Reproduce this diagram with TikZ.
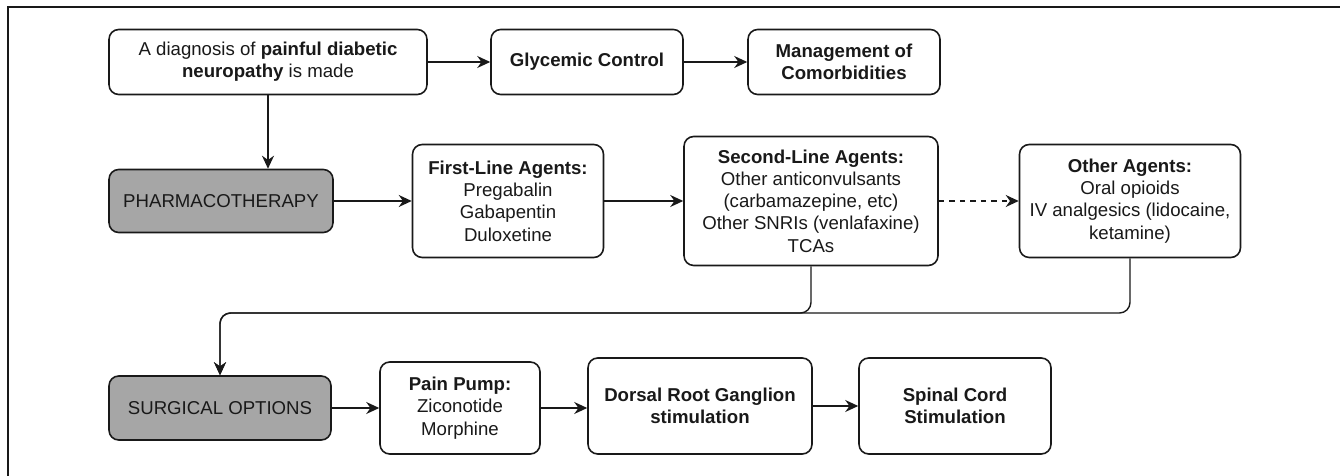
\documentclass[tikz,border=0pt]{standalone}
\usepackage{fontspec}
\setmainfont{Liberation Sans}
\usepackage{tikz}
\usetikzlibrary{arrows.meta, positioning, calc}
\definecolor{StepGray}{RGB}{166,166,166}
\definecolor{InkDark}{RGB}{25,25,25}

\begin{document}
\begin{tikzpicture}[
        x=0.02cm, y=-0.02cm,
        box/.style={draw=InkDark,line width=0.9pt,rounded corners=5.5pt,fill=white,
                    align=center,text=InkDark,inner sep=2pt,
                    font=\fontsize{10.6}{12.7}\selectfont},
        stage/.style={box,fill=StepGray},
        arr/.style={draw=InkDark,line width=0.8pt,
                    -{Stealth[length=2.6mm,width=2.4mm]}},
        dash arr/.style={arr,dashed}
      ]
        \useasboundingbox (0,0) rectangle (1340,476);
        % outer frame
        \draw[InkDark,line width=0.9pt] (8,476) -- (8,7) -- (1340,7);
        % top row
        \node[box,minimum width=6.36cm,minimum height=1.3cm] (diag) at (268,62)
          {A diagnosis of \textbf{painful diabetic}\\\textbf{neuropathy} is made};
        \node[box,minimum width=3.84cm,minimum height=1.3cm] (glyc) at (587,62)
          {\textbf{Glycemic Control}};
        \node[box,minimum width=3.84cm,minimum height=1.3cm] (mgmt) at (844,62)
          {\textbf{Management of}\\\textbf{Comorbidities}};
        % pharmacotherapy row
        \node[stage,minimum width=4.48cm,minimum height=1.26cm] (pharm) at (221,201)
          {PHARMACOTHERAPY};
        \node[box,minimum width=3.82cm,minimum height=2.26cm] (first) at (508,201)
          {\textbf{First-Line Agents:}\\Pregabalin\\Gabapentin\\Duloxetine};
        \node[box,minimum width=5.08cm,minimum height=2.58cm] (second) at (811,201)
          {\textbf{Second-Line Agents:}\\Other anticonvulsants\\(carbamazepine, etc)\\Other SNRIs (venlafaxine)\\TCAs};
        \node[box,minimum width=4.42cm,minimum height=2.26cm] (other) at (1130,201)
          {\textbf{Other Agents:}\\Oral opioids\\IV analgesics (lidocaine,\\ketamine)};
        % surgical row
        \node[stage,minimum width=4.44cm,minimum height=1.28cm] (surg) at (220,408)
          {SURGICAL OPTIONS};
        \node[box,minimum width=3.2cm,minimum height=1.84cm] (pump) at (460,408)
          {\textbf{Pain Pump:}\\Ziconotide\\Morphine};
        \node[box,minimum width=4.48cm,minimum height=1.92cm] (drg) at (700,406)
          {\textbf{Dorsal Root Ganglion}\\\textbf{stimulation}};
        \node[box,minimum width=3.84cm,minimum height=1.92cm] (scs) at (955,406)
          {\textbf{Spinal Cord}\\\textbf{Stimulation}};
        \coordinate (bus) at (0,313);
        % connectors
        \draw[arr] (diag) -- (glyc);
        \draw[arr] (glyc) -- (mgmt);
        \draw[arr] (diag.south) -- (diag.south |- pharm.north);
        \draw[arr] (pharm) -- (first);
        \draw[arr] (first) -- (second);
        \draw[dash arr] (second) -- (other);
        \draw[arr,rounded corners=6pt] (second.south) -- (second.south |- bus) -| (surg.north);
        \draw[arr,rounded corners=6pt] (other.south) -- (other.south |- bus) -| (surg.north);
        \draw[arr] (surg.east) -- (surg.east -| pump.west);
        \draw[arr] (pump.east) -- (pump.east -| drg.west);
        \draw[arr] (drg.east) -- (drg.east -| scs.west);
      \end{tikzpicture}
\end{document}
